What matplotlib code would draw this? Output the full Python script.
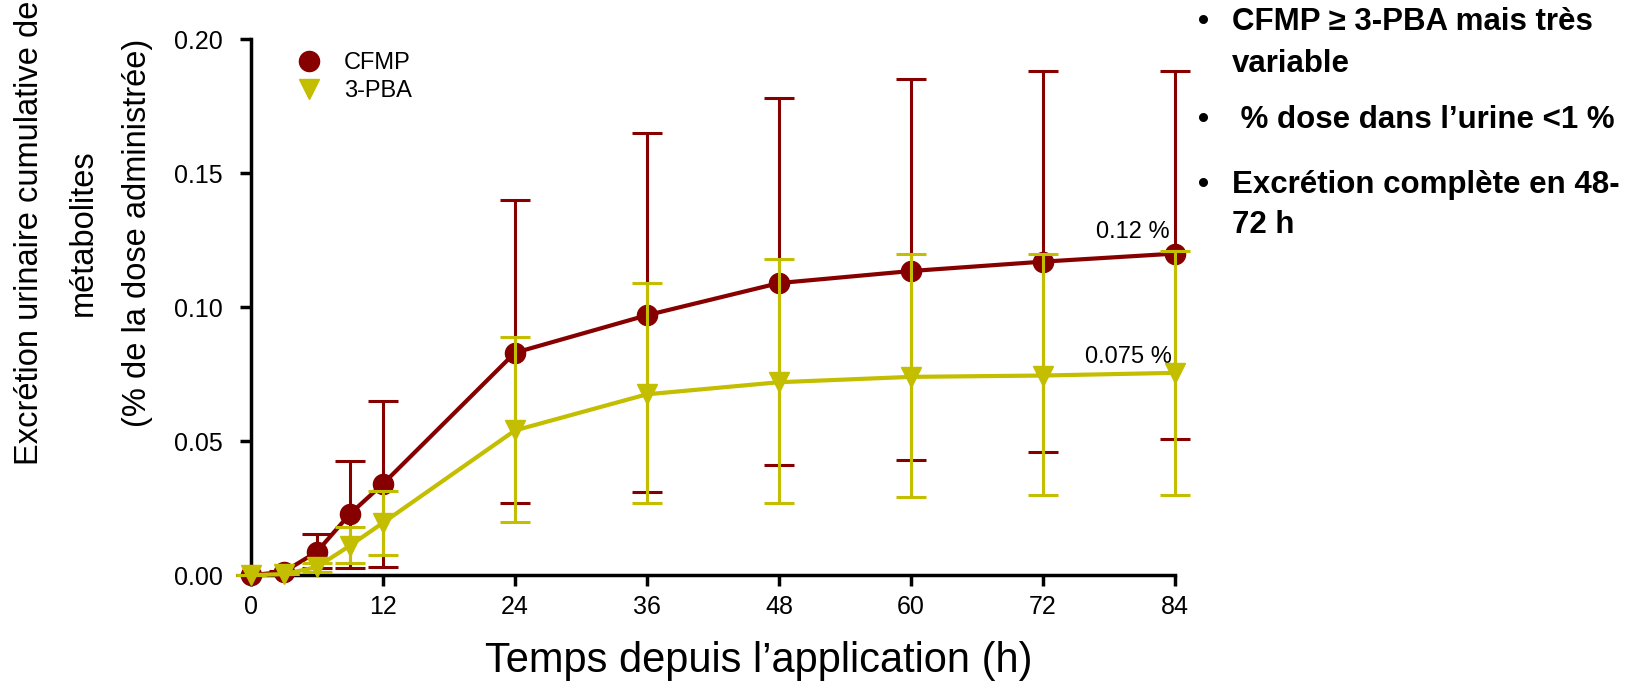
import matplotlib
matplotlib.use("Agg")
import matplotlib.pyplot as plt
from matplotlib.lines import Line2D
from matplotlib.ticker import FormatStrFormatter

plt.rcParams['font.family'] = ['Liberation Sans', 'DejaVu Sans']

# temps de prélèvement (h)
temps = [0, 3, 6, 9, 12, 24, 36, 48, 60, 72, 84]

# CFMP : moyenne, borne haute, borne basse
cfmp = [0.0, 0.0012, 0.0087, 0.0228, 0.034, 0.083, 0.097, 0.109, 0.1135, 0.117, 0.120]
cfmp_haut = [0.0, 0.0015, 0.0153, 0.0427, 0.065, 0.140, 0.165, 0.178, 0.185, 0.188, 0.188]
cfmp_bas = [0.0, 0.0009, 0.0027, 0.0026, 0.0031, 0.027, 0.031, 0.041, 0.043, 0.046, 0.051]

# 3-PBA
pba = [0.0, 0.0004, 0.003, 0.011, 0.0195, 0.054, 0.0675, 0.072, 0.074, 0.0745, 0.0755]
pba_haut = [0.0, 0.0005, 0.0045, 0.018, 0.0315, 0.089, 0.109, 0.118, 0.120, 0.120, 0.121]
pba_bas = [0.0, 0.0003, 0.0012, 0.0046, 0.0077, 0.020, 0.027, 0.027, 0.029, 0.030, 0.030]

rouge = '#870000'
jaune = '#C3BE00'

fig = plt.figure(figsize=(16.39, 6.88), dpi=100)
ax = fig.add_axes([0.153, 0.164, 0.564, 0.779])

def barres(moy, haut, bas):
    return [[m - b for m, b in zip(moy, bas)], [h - m for m, h in zip(moy, haut)]]

ax.errorbar(temps, cfmp, yerr=barres(cfmp, cfmp_haut, cfmp_bas), color=rouge,
            marker='o', markersize=14.5, lw=3, elinewidth=2.2, capsize=11, capthick=2.2,
            clip_on=False, zorder=3)
ax.errorbar(temps, pba, yerr=barres(pba, pba_haut, pba_bas), color=jaune,
            marker='v', markersize=15, lw=3, elinewidth=2.2, capsize=11, capthick=2.2,
            clip_on=False, zorder=4)

ax.set_xlim(0, 84)
ax.set_ylim(0, 0.20)
ax.set_xticks([0, 12, 24, 36, 48, 60, 72, 84])
ax.set_yticks([0, 0.05, 0.10, 0.15, 0.20])
ax.yaxis.set_major_formatter(FormatStrFormatter('%.2f'))
ax.tick_params(labelsize=18, width=2.5, length=8, direction='out')
ax.tick_params(axis='x', pad=6)
ax.tick_params(axis='y', pad=12)
for s in ['top', 'right']:
    ax.spines[s].set_visible(False)
for s in ['left', 'bottom']:
    ax.spines[s].set_linewidth(2.5)

ax.set_xlabel('Temps depuis l’application (h)', fontsize=30, labelpad=16)
ax.xaxis.label.set_x(0.549)
fig.text(0.051, 0.662, 'Excrétion urinaire cumulative de\nmétabolites\n(% de la dose administrée)',
         rotation=90, ha='center', va='center', fontsize=23.5, linespacing=1.95)

poignees = [Line2D([], [], color=rouge, marker='o', ls='none', markersize=14.5),
            Line2D([], [], color=jaune, marker='v', ls='none', markersize=15)]
ax.legend(poignees, ['CFMP', '3-PBA'], loc='upper left', bbox_to_anchor=(0.014, 1.015),
          frameon=False, fontsize=17, handletextpad=0.5, labelspacing=0.25)

ax.text(83.5, 0.128, '0.12 %', ha='right', va='center', fontsize=17)
ax.text(83.7, 0.0813, '0.075 %', ha='right', va='center', fontsize=17)

# texte à droite
lignes = [
    (30, True, 'CFMP ≥ 3-PBA mais très'),
    (72, False, 'variable'),
    (128, True, ' % dose dans l’urine <1 %'),
    (193, True, 'Excrétion complète en 48-'),
    (233, False, '72 h'),
]
for yb, puce, txt in lignes:
    if puce:
        fig.text(1198 / 1639, 1 - yb / 688, '•', fontsize=22.5, fontweight='bold', va='baseline')
    fig.text(1232 / 1639, 1 - yb / 688, txt, fontsize=22.5, fontweight='bold', va='baseline')

fig.savefig('out.png', dpi=100)
